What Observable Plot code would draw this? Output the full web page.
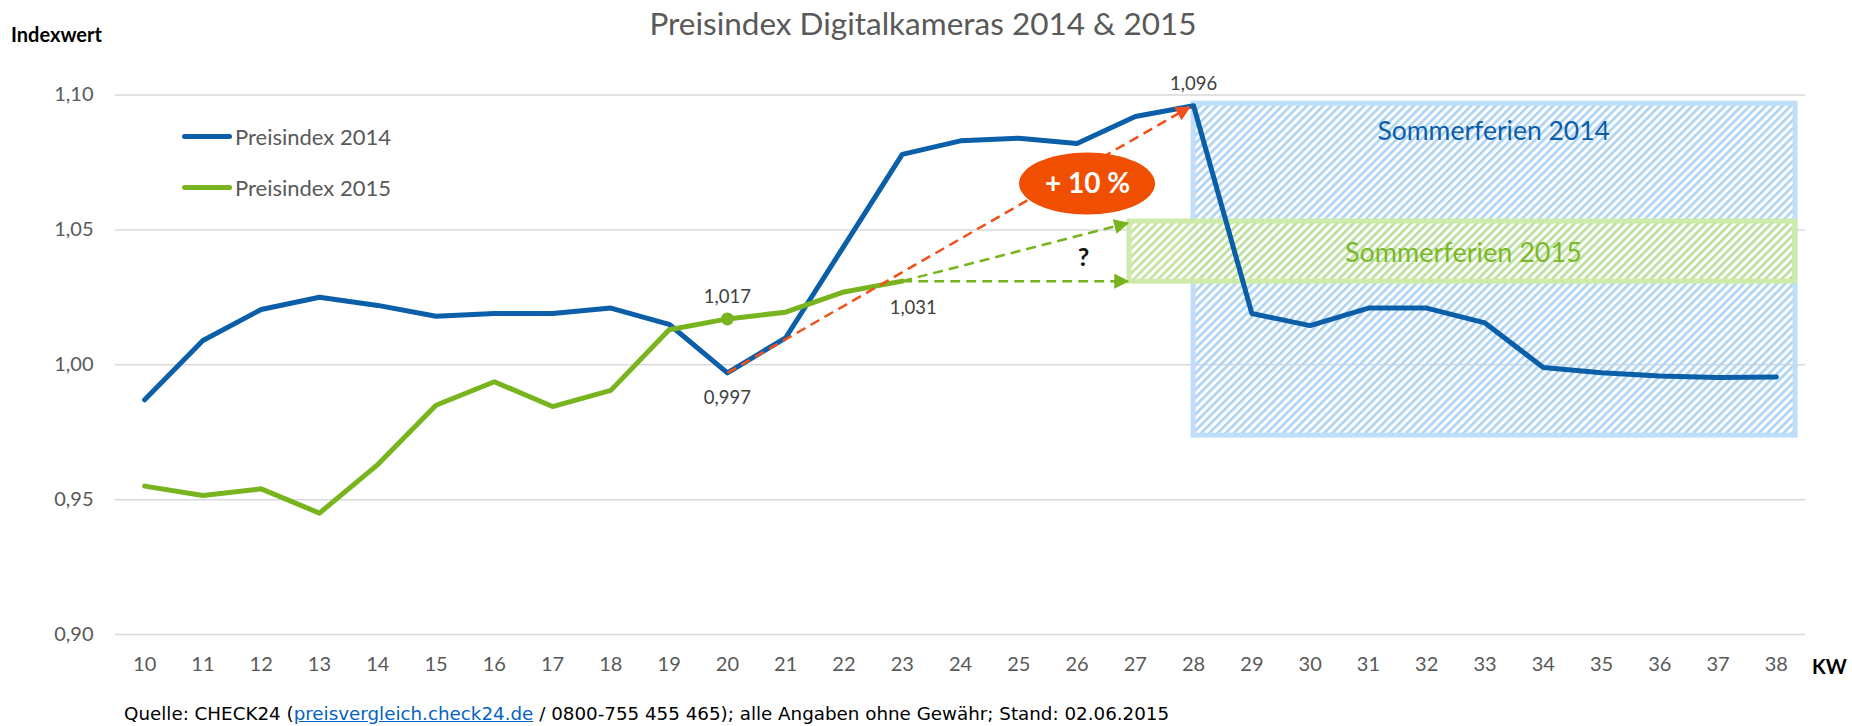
<!DOCTYPE html>
<html><head><meta charset="utf-8">
<script src="https://cdn.jsdelivr.net/npm/d3@7"></script>
<script src="https://cdn.jsdelivr.net/npm/@observablehq/plot@0.6"></script>
<style>
body{margin:0;background:#fff;}
#wrap{position:relative;width:1852px;height:726px;font-family:Lato,"Open Sans",sans-serif;overflow:hidden;background:#fff}
#wrap svg{position:absolute;left:0;top:0}
.t{position:absolute;white-space:nowrap;line-height:1}
.leg{position:absolute;display:flex;align-items:center;font-size:22px;color:#595959;white-space:nowrap}
.leg span.sw{display:inline-block;width:50px;height:5px;border-radius:3px;margin-right:3px}
</style></head><body><div id="wrap"></div>
<script>
// ---- data ----
const weeks = [10,11,12,13,14,15,16,17,18,19,20,21,22,23,24,25,26,27,28,29,30,31,32,33,34,35,36,37,38];
const index2014 = [0.987,1.009,1.0205,1.025,1.022,1.018,1.019,1.019,1.021,1.015,0.997,1.010,1.044,1.078,1.083,1.084,1.082,1.092,1.096,1.019,1.0145,1.021,1.021,1.0155,0.999,0.997,0.9958,0.9953,0.9955];
const weeks2015 = [10,11,12,13,14,15,16,17,18,19,20,21,22,23];
const index2015 = [0.955,0.9515,0.954,0.945,0.963,0.985,0.9937,0.9845,0.9905,1.013,1.017,1.0195,1.027,1.031];
const yTicks = [0.90,0.95,1.00,1.05,1.10];
const seriesNames = ["Preisindex 2014","Preisindex 2015"];
const colors = ["#0B5EA8","#78B41E"];
const title = "Preisindex Digitalkameras 2014 & 2015";
// labelled points: [series, week, value]
const labelAbove = [["2015",20,1.017],["2014",28,1.096]];
const labelBelow = [["2014",20,0.997]];
const labelBelowRight = [["2015",23,1.031]];
const markedPoint = [[20,1.017]];
// annotation boxes (weeks, index values)
const holidays2014 = [{label:"Sommerferien 2014", start:28, end:38.33, low:0.9737, high:1.0968, lx:33.15, ly:1.0865}];
const holidays2015 = [{label:"Sommerferien 2015", start:26.9, end:38.32, low:1.0308, high:1.0531, lx:32.63, ly:1.0412}];
const trendOrange = [{x1:20, y1:0.997, x2:27.93, y2:1.0955}];
const trendGreen = [{x1:23, y1:1.031, x2:26.87, y2:1.0525},{x1:23, y1:1.031, x2:26.87, y2:1.031}];
const bubble = [{x:26.18, y:1.067, text:"+ 10 %"}];
const question = [{x:26.11, y:1.0397, text:"?"}];

const fmt = v => d3.format(".3f")(v).replace(".", ",");
const d2014 = weeks.map((w,i)=>({week:w, value:index2014[i]}));
const d2015 = weeks2015.map((w,i)=>({week:w, value:index2015[i]}));
const toPts = arr => arr.map(([s,w,v])=>({series:s, week:w, value:v, text:fmt(v)}));

const FONT = 'Lato, "Open Sans", sans-serif';

const defsMark = () => {
  const g = d3.create("svg:g");
  const defs = g.append("defs");
  const pat = (id, col, bg) => {
    const p = defs.append("pattern").attr("id", id).attr("patternUnits","userSpaceOnUse")
      .attr("width", 5.8).attr("height", 5.8).attr("patternTransform","rotate(45)");
    if (bg) p.append("rect").attr("width",5.8).attr("height",5.8).attr("fill",bg);
    p.append("rect").attr("width",2.7).attr("height",5.8).attr("fill",col);
  };
  pat("hatchBlue", "#AED4F5", null);
  pat("hatchGreen", "#BCE093", "#ffffff");
  const mk = (id, col) => defs.append("marker").attr("id", id).attr("viewBox","0 0 10 10")
      .attr("refX", 9).attr("refY", 5).attr("markerWidth", 17).attr("markerHeight", 15)
      .attr("markerUnits","userSpaceOnUse").attr("orient","auto")
      .append("path").attr("d","M0,0L10,5L0,10Z").attr("fill", col).attr("stroke","none");
  mk("mkO", "#F25019");
  mk("mkG", "#78B41E");
  return g.node();
};

const ellipseMark = (index, scales) => {
  const g = d3.create("svg:g");
  bubble.forEach(b => g.append("ellipse").attr("cx", scales.x(b.x)).attr("cy", scales.y(b.y))
    .attr("rx", 68).attr("ry", 31).attr("fill", "#F04E00"));
  return g.node();
};

const chart = Plot.plot({
  width: 1852, height: 726,
  marginTop: 94.5, marginBottom: 92, marginLeft: 115, marginRight: 47,
  x: {domain: [9.5, 38.5]},
  y: {domain: [0.9, 1.1]},
  style: {fontFamily: FONT, color: "#595959", background: "transparent", overflow: "visible"},
  marks: [
    defsMark,
    Plot.ruleY(yTicks, {stroke: "#D9D9D9", strokeWidth: 1.5}),
    Plot.axisY({ticks: yTicks, tickSize: 0, tickPadding: 22, fontSize: 20, label: null,
      tickFormat: d => d.toFixed(2).replace(".", ",")}),
    Plot.axisX({ticks: weeks, tickSize: 0, tickPadding: 22, fontSize: 20, label: null, tickFormat: d => String(d)}),
    Plot.rect(holidays2014, {x1: "start", x2: "end", y1: "low", y2: "high", fill: "url(#hatchBlue)", stroke: "#BEDEFA", strokeWidth: 5}),
    Plot.rect(holidays2015, {x1: "start", x2: "end", y1: "low", y2: "high", fill: "url(#hatchGreen)", fillOpacity: 0.9, stroke: "#CDEAA8", strokeWidth: 5}),
    Plot.text(holidays2014, {x: "lx", y: "ly", text: "label", fill: colors[0], fontSize: 26.5}),
    Plot.text(holidays2015, {x: "lx", y: "ly", text: "label", fill: "#7AB929", fontSize: 27}),
    Plot.line(d2014, {x: "week", y: "value", stroke: colors[0], strokeWidth: 5, strokeLinecap: "round", strokeLinejoin: "round"}),
    Plot.line(d2015, {x: "week", y: "value", stroke: colors[1], strokeWidth: 5, strokeLinecap: "round", strokeLinejoin: "round"}),
    Plot.dot(markedPoint, {x: d => d[0], y: d => d[1], r: 6.5, fill: colors[1]}),
    Plot.link(trendOrange, {x1: "x1", y1: "y1", x2: "x2", y2: "y2", stroke: "#F25019", strokeWidth: 2.5, strokeDasharray: "10,6", className: "arrowO"}),
    Plot.link(trendGreen, {x1: "x1", y1: "y1", x2: "x2", y2: "y2", stroke: "#78B41E", strokeWidth: 2.5, strokeDasharray: "10,6", className: "arrowG"}),
    ellipseMark,
    Plot.text(bubble, {x: "x", y: "y", text: "text", fill: "white", fontSize: 28, fontWeight: "bold"}),
    Plot.text(question, {x: "x", y: "y", text: "text", fill: "#111", fontSize: 25, fontWeight: "bold"}),
    Plot.text(toPts(labelAbove), {x: "week", y: "value", text: "text", dy: -22, fill: "#404040", fontSize: 18.5}),
    Plot.text(toPts(labelBelow), {x: "week", y: "value", text: "text", dy: 25, fill: "#404040", fontSize: 18.5}),
    Plot.text(toPts(labelBelowRight), {x: "week", y: "value", text: "text", dx: 11, dy: 27, fill: "#404040", fontSize: 18.5})
  ]
});

d3.select(chart).selectAll(".arrowO path").attr("marker-end", "url(#mkO)");
d3.select(chart).selectAll(".arrowG path").attr("marker-end", "url(#mkG)");

const wrap = document.getElementById("wrap");
wrap.appendChild(chart);

function addText(txt, css) {
  const d = document.createElement("div");
  d.className = "t";
  d.textContent = txt;
  Object.assign(d.style, css);
  wrap.appendChild(d);
  return d;
}
addText(title, {left: "0px", width: "1846px", textAlign: "center", top: "8px", fontSize: "31.5px", color: "#595959"});
addText("Indexwert", {left: "11px", top: "24px", fontSize: "20px", fontWeight: "bold", color: "#000"});
addText("KW", {left: "1812px", top: "656px", fontSize: "20px", fontWeight: "bold", color: "#000"});

// legend
seriesNames.forEach((name, i) => {
  const l = document.createElement("div");
  l.className = "leg";
  l.style.left = "182px";
  l.style.top = (124 + i * 51) + "px";
  l.style.height = "24px";
  const sw = document.createElement("span");
  sw.className = "sw";
  sw.style.background = colors[i];
  l.appendChild(sw);
  l.appendChild(document.createTextNode(name));
  wrap.appendChild(l);
});

// footer
const foot = addText("", {left: "124px", top: "705px", fontSize: "18.3px", color: "#000", fontFamily: '"DejaVu Sans", Verdana, sans-serif'});
foot.append("Quelle: CHECK24 (");
const a = document.createElement("span");
a.textContent = "preisvergleich.check24.de";
a.style.color = "#0563C1";
a.style.textDecoration = "underline";
foot.appendChild(a);
foot.append(" / 0800-755 455 465); alle Angaben ohne Gewähr; Stand: 02.06.2015");
</script></body></html>
